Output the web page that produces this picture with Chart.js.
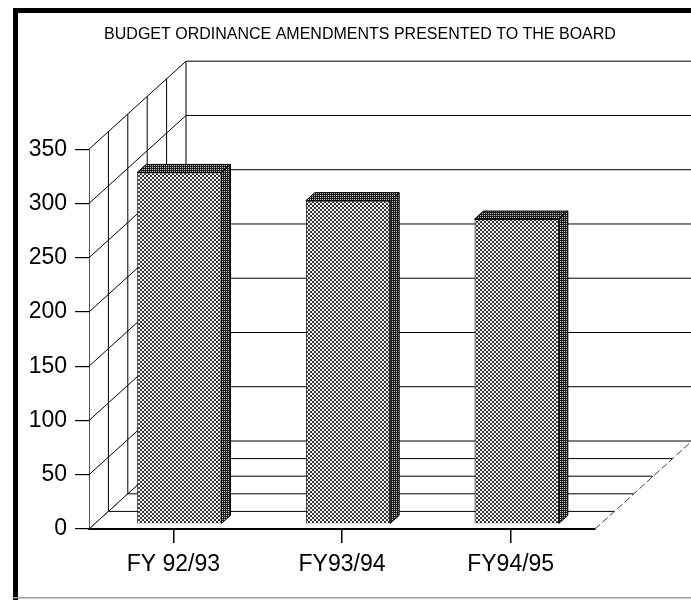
<!DOCTYPE html>
<html>
<head>
<meta charset="utf-8">
<script src="https://cdn.jsdelivr.net/npm/chart.js@4/dist/chart.umd.min.js"></script>
<style>
  html, body { margin: 0; padding: 0; background: #fff; }
  canvas { display: block; }
</style>
</head>
<body>
<canvas id="c" width="691" height="600"></canvas>
<script>
const titleText = 'BUDGET ORDINANCE AMENDMENTS PRESENTED TO THE BOARD';
const categories = ['FY 92/93', 'FY93/94', 'FY94/95'];
const amendments = [324, 298, 281];
const yTickValues = [0, 50, 100, 150, 200, 250, 300, 350];

const FONT = '"Liberation Sans", Arial, Helvetica, sans-serif';

// Oblique projection of the box: how far the back wall sits up and to the right
const DEPTH_X = 97, DEPTH_Y = 88;
const FLOOR_DIVS = 5;
// Bars stand a little behind the front edge and have their own shallow depth
const BAR_DX = 6, BAR_DY = 5;
const BAR_SIDE_X = 9, BAR_SIDE_Y = 8;

const canvas = document.getElementById('c');
const ctx0 = canvas.getContext('2d');

function tilePattern(size, draw) {
  const t = document.createElement('canvas');
  t.width = size; t.height = size;
  draw(t.getContext('2d'));
  return ctx0.createPattern(t, 'repeat');
}

// Halftone-style fills: light stipple for the front faces, dark for tops and sides
const frontFill = tilePattern(4, g => {
  g.fillStyle = '#f4f4f4'; g.fillRect(0, 0, 4, 4);
  g.fillStyle = '#333333';
  g.fillRect(0, 0, 2, 2); g.fillRect(2, 2, 2, 2);
});
const darkFill = tilePattern(2, g => {
  g.fillStyle = '#1c1c1c'; g.fillRect(0, 0, 2, 2);
  g.fillStyle = '#c8c8c8'; g.fillRect(0, 0, 1, 1);
});

function line(ctx, x1, y1, x2, y2) {
  ctx.beginPath(); ctx.moveTo(x1, y1); ctx.lineTo(x2, y2); ctx.stroke();
}

const box3d = {
  id: 'box3d',
  beforeDraw(chart) {
    const ctx = chart.ctx;
    ctx.save();
    ctx.fillStyle = '#000';
    ctx.fillRect(13, 8, 5, 592);
    ctx.fillRect(13, 8, 678, 5);
    ctx.fillStyle = '#9a9a9a';
    ctx.fillRect(13, 597, 678, 1.5);
    ctx.restore();
  },
  beforeDatasetsDraw(chart) {
    const ctx = chart.ctx;
    const ys = chart.scales.y;
    const { left, right, bottom, top } = chart.chartArea;
    ctx.save();
    ctx.strokeStyle = '#000';
    ctx.lineWidth = 1;

    // left side wall: value lines running back, depth divisions upright
    yTickValues.forEach(v => {
      const y = ys.getPixelForValue(v);
      line(ctx, left, y, left + DEPTH_X, y - DEPTH_Y);
    });
    for (let k = 1; k <= FLOOR_DIVS; k++) {
      const x = left + DEPTH_X * k / FLOOR_DIVS;
      const dy = DEPTH_Y * k / FLOOR_DIVS;
      line(ctx, x, bottom - dy, x, top - dy);
    }

    // back wall value lines
    yTickValues.forEach(v => {
      const y = ys.getPixelForValue(v) - DEPTH_Y;
      line(ctx, left + DEPTH_X, y, right + DEPTH_X, y);
    });

    // floor depth lines
    for (let k = 1; k < FLOOR_DIVS; k++) {
      const dx = DEPTH_X * k / FLOOR_DIVS;
      const dy = DEPTH_Y * k / FLOOR_DIVS;
      line(ctx, left + dx, bottom - dy, right + dx, bottom - dy);
    }

    // floor edges
    ctx.strokeStyle = '#3a3a3a';
    ctx.setLineDash([7, 3]);
    line(ctx, left, bottom, left + DEPTH_X, bottom - DEPTH_Y);
    line(ctx, right, bottom, right + DEPTH_X, bottom - DEPTH_Y);
    ctx.restore();

    // bars are drawn slightly set back into the box
    ctx.save();
    ctx.translate(BAR_DX, -BAR_DY);
  },
  afterDatasetsDraw(chart) {
    const ctx = chart.ctx;
    const meta = chart.getDatasetMeta(0);
    ctx.strokeStyle = '#000';
    ctx.lineWidth = 1;
    meta.data.forEach(bar => {
      const p = bar.getProps(['x', 'y', 'base', 'width'], true);
      const L = p.x - p.width / 2, R = p.x + p.width / 2;
      const T = p.y, B = p.base;
      // top face
      ctx.beginPath();
      ctx.moveTo(L, T);
      ctx.lineTo(L + BAR_SIDE_X, T - BAR_SIDE_Y);
      ctx.lineTo(R + BAR_SIDE_X, T - BAR_SIDE_Y);
      ctx.lineTo(R, T);
      ctx.closePath();
      ctx.fillStyle = darkFill; ctx.fill(); ctx.stroke();
      // right side face
      ctx.beginPath();
      ctx.moveTo(R, T);
      ctx.lineTo(R + BAR_SIDE_X, T - BAR_SIDE_Y);
      ctx.lineTo(R + BAR_SIDE_X, B - BAR_SIDE_Y);
      ctx.lineTo(R, B);
      ctx.closePath();
      ctx.fillStyle = darkFill; ctx.fill(); ctx.stroke();
    });
    ctx.restore();
  }
};

new Chart(canvas, {
  type: 'bar',
  data: {
    labels: categories,
    datasets: [{
      data: amendments,
      backgroundColor: frontFill,
      borderColor: '#111',
      borderWidth: 1,
      barPercentage: 0.5,
      categoryPercentage: 1.0
    }]
  },
  options: {
    responsive: false,
    animation: false,
    devicePixelRatio: 1,
    layout: { padding: { left: 29, right: 0, top: 0, bottom: 0 } },
    plugins: {
      legend: { display: false },
      tooltip: { enabled: false },
      title: {
        display: true,
        text: titleText,
        color: '#000',
        font: { family: FONT, size: 16, weight: 'normal', lineHeight: 1.2 },
        padding: { top: 25, bottom: 105 }
      }
    },
    scales: {
      x: {
        type: 'category',
        offset: true,
        grid: { display: true, drawOnChartArea: false, drawTicks: true, tickLength: 14, offset: false, color: '#000', lineWidth: 1.5 },
        border: { display: true, color: '#000', width: 2 },
        ticks: { color: '#000', font: { family: FONT, size: 23 }, padding: 8, maxRotation: 0 },
        afterFit(s) { s.height = 71; }
      },
      y: {
        min: 0, max: 350,
        grid: { display: true, drawOnChartArea: false, drawTicks: true, tickLength: 14, color: '#000', lineWidth: 1.2 },
        border: { display: true, color: '#555', width: 1, dash: [6, 3] },
        ticks: { stepSize: 50, color: '#000', font: { family: FONT, size: 23 }, padding: 8 },
        afterFit(s) { s.width = 60; }
      },
      yRight: {
        position: 'right',
        display: true,
        grid: { display: false },
        border: { display: false },
        ticks: { display: false },
        afterFit(s) { s.width = 96; }
      }
    }
  },
  plugins: [box3d]
});
</script>
</body>
</html>
